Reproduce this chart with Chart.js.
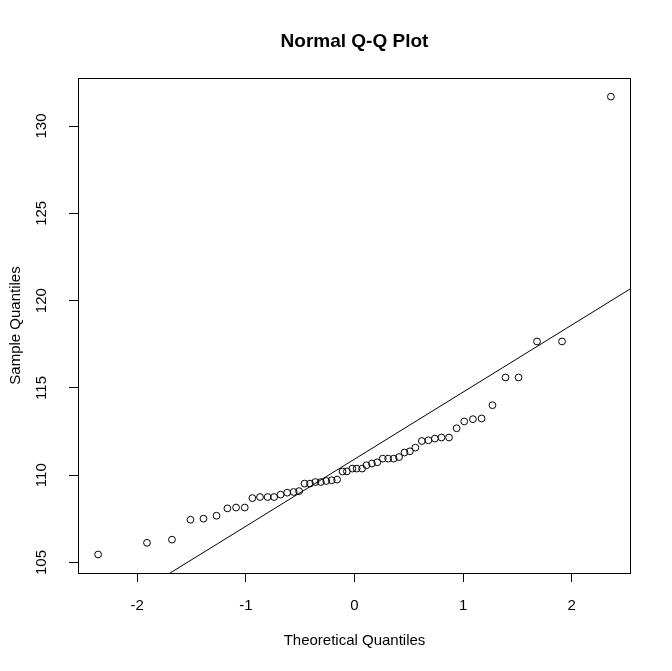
<!DOCTYPE html>
<html>
<head>
<meta charset="utf-8">
<title>Normal Q-Q Plot</title>
<script src="https://cdn.jsdelivr.net/npm/chart.js@4"></script>
<style>
  html, body { margin: 0; padding: 0; background: #fff; }
  canvas { display: block; }
</style>
</head>
<body>
<canvas id="qqChart" width="672" height="671"></canvas>
<script>
// Theoretical quantiles (x)
const theoreticalQuantiles = [
  -2.36, -1.91, -1.68, -1.51, -1.39, -1.27, -1.17, -1.09, -1.01, -0.94,
  -0.87, -0.80, -0.74, -0.68, -0.62, -0.56, -0.51, -0.46, -0.41, -0.36,
  -0.31, -0.26, -0.21, -0.16, -0.11, -0.07, -0.02, 0.02, 0.07, 0.11,
  0.16, 0.21, 0.26, 0.31, 0.36, 0.41, 0.46, 0.51, 0.56, 0.62,
  0.68, 0.74, 0.80, 0.87, 0.94, 1.01, 1.09, 1.17, 1.27, 1.39,
  1.51, 1.68, 1.91, 2.36
];
// Sample quantiles (y), sorted
const sampleQuantiles = [
  105.46, 106.13, 106.31, 107.45, 107.51, 107.68, 108.10, 108.15, 108.15, 108.69,
  108.75, 108.75, 108.75, 108.89, 109.00, 109.04, 109.09, 109.52, 109.52, 109.61,
  109.61, 109.67, 109.71, 109.75, 110.21, 110.22, 110.38, 110.38, 110.38, 110.57,
  110.67, 110.74, 110.95, 110.95, 110.95, 111.04, 111.30, 111.37, 111.58, 111.96,
  112.00, 112.10, 112.16, 112.16, 112.69, 113.08, 113.21, 113.25, 114.01, 115.60,
  115.60, 117.66, 117.66, 131.68
];
// qqline end points (clipped by the plot box)
const qqLineX = [-2.6, 2.6];
const qqLineY = [100.93, 120.91];

const xTicks = [-2, -1, 0, 1, 2];
const yTicks = [105, 110, 115, 120, 125, 130];

const FONT = '"Liberation Sans", Arial, Helvetica, sans-serif';

// R draws a full box around the plot region
const boxPlugin = {
  id: 'boxPlugin',
  afterDatasetsDraw(chart) {
    const { ctx, chartArea } = chart;
    ctx.save();
    ctx.strokeStyle = '#000';
    ctx.lineWidth = 1;
    ctx.strokeRect(Math.round(chartArea.left) + 0.5, Math.round(chartArea.top) + 0.5,
      Math.round(chartArea.right - chartArea.left) - 1, Math.round(chartArea.bottom - chartArea.top));
    ctx.restore();
  }
};

const points = theoreticalQuantiles.map((x, i) => ({ x: x, y: sampleQuantiles[i] }));
const linePoints = qqLineX.map((x, i) => ({ x: x, y: qqLineY[i] }));

new Chart(document.getElementById('qqChart').getContext('2d'), {
  type: 'scatter',
  data: {
    datasets: [
      {
        label: 'sample',
        data: points,
        pointStyle: 'circle',
        pointRadius: 3.4,
        pointBorderWidth: 1,
        pointBorderColor: '#000',
        pointBackgroundColor: 'rgba(0,0,0,0)',
        showLine: false
      },
      {
        type: 'line',
        label: 'qqline',
        data: linePoints,
        borderColor: '#000',
        borderWidth: 1,
        pointRadius: 0,
        fill: false,
        tension: 0
      }
    ]
  },
  options: {
    responsive: false,
    animation: false,
    layout: { padding: { left: 0, right: 41, top: 0, bottom: 0 } },
    plugins: {
      legend: { display: false },
      tooltip: { enabled: false },
      title: {
        display: true,
        text: 'Normal Q-Q Plot',
        fullSize: false,
        color: '#000',
        font: { family: FONT, size: 19, weight: 'bold', lineHeight: 1.2 },
        padding: { top: 30, bottom: 25.2 }
      }
    },
    scales: {
      x: {
        type: 'linear',
        min: -2.545,
        max: 2.545,
        afterFit: scale => { scale.height = 98; },
        afterBuildTicks: scale => { scale.ticks = xTicks.map(v => ({ value: v })); },
        grid: { drawOnChartArea: false, drawTicks: true, tickLength: 9, color: '#000', lineWidth: 1 },
        border: { display: false },
        ticks: { color: '#000', padding: 15, maxRotation: 0, font: { family: FONT, size: 15 } },
        title: {
          display: true,
          text: 'Theoretical Quantiles',
          color: '#000',
          font: { family: FONT, size: 15, lineHeight: 1.2 },
          padding: { top: 0, bottom: 21 }
        }
      },
      y: {
        type: 'linear',
        min: 104.4,
        max: 132.75,
        afterFit: scale => { scale.width = 78; },
        afterBuildTicks: scale => { scale.ticks = yTicks.map(v => ({ value: v })); },
        grid: { drawOnChartArea: false, drawTicks: true, tickLength: 9, color: '#000', lineWidth: 1 },
        border: { display: false },
        ticks: {
          color: '#000',
          padding: 15,
          minRotation: 90,
          maxRotation: 90,
          crossAlign: 'center',
          font: { family: FONT, size: 15 }
        },
        title: {
          display: true,
          text: 'Sample Quantiles',
          color: '#000',
          font: { family: FONT, size: 15, lineHeight: 1.2 },
          padding: { top: 7, bottom: 0 }
        }
      }
    }
  },
  plugins: [boxPlugin]
});
</script>
</body>
</html>
